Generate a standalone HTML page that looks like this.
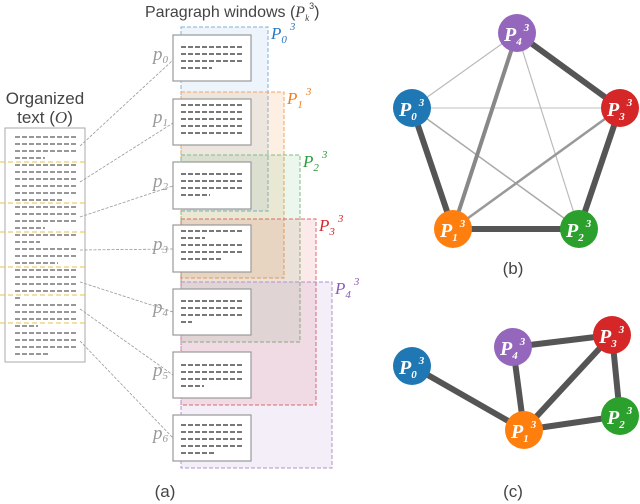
<!DOCTYPE html>
<html><head><meta charset="utf-8"><style>
html,body{margin:0;padding:0;background:#fff;}
svg{display:block;}
.sans{font-family:"Liberation Sans",sans-serif;}
.ser{font-family:"Liberation Serif",serif;font-style:italic;}
</style></head><body>
<svg width="640" height="504" viewBox="0 0 640 504" xmlns="http://www.w3.org/2000/svg">
<g stroke-dasharray="4,2" stroke-width="1">
<rect x="181" y="27" width="87" height="184" fill="#4a8fd6" fill-opacity="0.1" stroke="#7fb0dd"/>
<rect x="181" y="92" width="103" height="186" fill="#f08a2a" fill-opacity="0.13" stroke="#f4a460"/>
<rect x="181" y="155" width="119" height="187" fill="#3aa845" fill-opacity="0.1" stroke="#7cbf7f"/>
<rect x="181" y="219" width="135" height="186" fill="#e03030" fill-opacity="0.1" stroke="#e06868"/>
<rect x="181" y="282" width="151" height="186" fill="#9a70c0" fill-opacity="0.12" stroke="#b38fd0"/>
</g>
<g class="ser" font-size="17">
<text x="271" y="39" fill="#2a78c0">P<tspan font-size="11" dy="4">0</tspan><tspan font-size="11" dy="-13" dx="3">3</tspan></text>
<text x="287" y="104" fill="#f07f20">P<tspan font-size="11" dy="4">1</tspan><tspan font-size="11" dy="-13" dx="3">3</tspan></text>
<text x="303" y="167" fill="#2e9a3a">P<tspan font-size="11" dy="4">2</tspan><tspan font-size="11" dy="-13" dx="3">3</tspan></text>
<text x="319" y="231" fill="#d62828">P<tspan font-size="11" dy="4">3</tspan><tspan font-size="11" dy="-13" dx="3">3</tspan></text>
<text x="335" y="294" fill="#8a5cb8">P<tspan font-size="11" dy="4">4</tspan><tspan font-size="11" dy="-13" dx="3">3</tspan></text>
</g>
<text x="145" y="17" class="sans" font-size="16" fill="#444">Paragraph windows (<tspan class="ser">P</tspan><tspan class="ser" font-size="9" dy="4">k</tspan><tspan font-size="9" dy="-12">3</tspan><tspan dy="8">)</tspan></text>
<text x="45" y="104" class="sans" font-size="17" fill="#444" text-anchor="middle">Organized</text>
<text x="45" y="123" class="sans" font-size="17" fill="#444" text-anchor="middle">text (<tspan class="ser">O</tspan>)</text>
<rect x="5" y="128" width="80" height="234" fill="#fff" stroke="#aaa" stroke-width="1"/>
<g stroke="#777" stroke-width="1.6" stroke-dasharray="5,2">
<path d="M15 137H78M15 144H78M15 151H78M15 158H45M15 165H78M15 172H78M15 179H78M15 186H78M15 193H78M15 200H64M15 207H78M15 214H78M15 221H78M15 228H45M15 235H78M15 242H40M15 249H78M15 256H78M15 263H58M15 270H78M15 277H78M15 284H78M15 291H78M15 298H22M15 305H78M15 312H78M15 319H78M15 326H38M15 333H78M15 340H78M15 347H78M15 354H50"/>
</g>
<g stroke="#e6c04a" stroke-width="1" stroke-dasharray="5,3">
<path d="M0 162H88M0 203H88M0 232H88M0 267H88M0 295H88M0 323H88"/>
</g>
<g stroke="#999" stroke-width="0.8" stroke-dasharray="3,1.5" fill="none">
<path d="M80 146L173 60M80 182L173 123M80 217L173 186M80 250L173 249M80 282L173 312M80 309L173 375M80 341L173 438"/>
</g>
<g fill="#fff" stroke="#999" stroke-width="1.2">
<rect x="173" y="35" width="78" height="46"/>
<rect x="173" y="99" width="78" height="46"/>
<rect x="173" y="162" width="78" height="47"/>
<rect x="173" y="225" width="78" height="47"/>
<rect x="173" y="289" width="78" height="46"/>
<rect x="173" y="352" width="78" height="46"/>
<rect x="173" y="415" width="78" height="46"/>
</g>
<g stroke="#666" stroke-width="1.7" stroke-dasharray="5,2">
<path d="M181 47H244M181 54H244M181 61H244M181 68H212"/>
<path d="M181 105H244M181 112H244M181 119H244M181 126H244M181 133H244"/>
<path d="M181 174H244M181 181H244M181 188H244M181 195H210"/>
<path d="M181 231H244M181 238H205M181 245H244M181 252H244M181 259H222"/>
<path d="M181 301H244M181 308H244M181 315H244M181 322H192"/>
<path d="M181 365H244M181 372H244M181 379H244M181 386H204"/>
<path d="M181 425H244M181 432H244M181 439H244M181 446H244M181 453H215"/>
</g>
<g class="ser" font-size="19" fill="#999">
<text x="153" y="60">p<tspan font-size="11" dy="3">0</tspan></text>
<text x="153" y="123">p<tspan font-size="11" dy="3">1</tspan></text>
<text x="153" y="187">p<tspan font-size="11" dy="3">2</tspan></text>
<text x="153" y="250">p<tspan font-size="11" dy="3">3</tspan></text>
<text x="153" y="313">p<tspan font-size="11" dy="3">4</tspan></text>
<text x="153" y="376">p<tspan font-size="11" dy="3">5</tspan></text>
<text x="153" y="439">p<tspan font-size="11" dy="3">6</tspan></text>
</g>
<text x="165" y="497" class="sans" font-size="17" fill="#444" text-anchor="middle">(a)</text>
<g stroke-linecap="butt">
<line x1="412" y1="108" x2="517" y2="33" stroke="#bbb" stroke-width="1.2"/>
<line x1="412" y1="108" x2="620" y2="108" stroke="#ccc" stroke-width="1.2"/>
<line x1="412" y1="108" x2="579" y2="229" stroke="#aaa" stroke-width="1.5"/>
<line x1="517" y1="33" x2="579" y2="229" stroke="#bbb" stroke-width="1.2"/>
<line x1="453" y1="229" x2="620" y2="108" stroke="#999" stroke-width="2.5"/>
<line x1="517" y1="33" x2="453" y2="229" stroke="#888" stroke-width="4"/>
<line x1="412" y1="108" x2="453" y2="229" stroke="#555" stroke-width="6"/>
<line x1="453" y1="229" x2="579" y2="229" stroke="#555" stroke-width="6"/>
<line x1="579" y1="229" x2="620" y2="108" stroke="#555" stroke-width="6"/>
<line x1="620" y1="108" x2="517" y2="33" stroke="#555" stroke-width="6"/>
</g>
<g stroke="#555" stroke-width="6">
<line x1="412" y1="366" x2="524" y2="430"/>
<line x1="513" y1="347" x2="524" y2="430"/>
<line x1="513" y1="347" x2="612" y2="335"/>
<line x1="612" y1="335" x2="524" y2="430"/>
<line x1="612" y1="335" x2="620" y2="416"/>
<line x1="524" y1="430" x2="620" y2="416"/>
</g>
<g class="ser" font-weight="bold" font-size="20" fill="#fff">
<circle cx="517" cy="33" r="19" fill="#9467bd"/><text x="504" y="41">P<tspan font-size="11" dy="4">4</tspan><tspan font-size="11" dy="-14" dx="2">3</tspan></text>
<circle cx="412" cy="108" r="19" fill="#1f77b4"/><text x="399" y="116">P<tspan font-size="11" dy="4">0</tspan><tspan font-size="11" dy="-14" dx="2">3</tspan></text>
<circle cx="620" cy="108" r="19" fill="#d62728"/><text x="607" y="116">P<tspan font-size="11" dy="4">3</tspan><tspan font-size="11" dy="-14" dx="2">3</tspan></text>
<circle cx="453" cy="229" r="19" fill="#ff7f0e"/><text x="440" y="237">P<tspan font-size="11" dy="4">1</tspan><tspan font-size="11" dy="-14" dx="2">3</tspan></text>
<circle cx="579" cy="229" r="19" fill="#2ca02c"/><text x="566" y="237">P<tspan font-size="11" dy="4">2</tspan><tspan font-size="11" dy="-14" dx="2">3</tspan></text>
<circle cx="412" cy="366" r="19" fill="#1f77b4"/><text x="399" y="374">P<tspan font-size="11" dy="4">0</tspan><tspan font-size="11" dy="-14" dx="2">3</tspan></text>
<circle cx="513" cy="347" r="19" fill="#9467bd"/><text x="500" y="355">P<tspan font-size="11" dy="4">4</tspan><tspan font-size="11" dy="-14" dx="2">3</tspan></text>
<circle cx="612" cy="335" r="19" fill="#d62728"/><text x="599" y="343">P<tspan font-size="11" dy="4">3</tspan><tspan font-size="11" dy="-14" dx="2">3</tspan></text>
<circle cx="524" cy="430" r="19" fill="#ff7f0e"/><text x="511" y="438">P<tspan font-size="11" dy="4">1</tspan><tspan font-size="11" dy="-14" dx="2">3</tspan></text>
<circle cx="620" cy="416" r="19" fill="#2ca02c"/><text x="607" y="424">P<tspan font-size="11" dy="4">2</tspan><tspan font-size="11" dy="-14" dx="2">3</tspan></text>
</g>
<text x="513" y="274" class="sans" font-size="17" fill="#444" text-anchor="middle">(b)</text>
<text x="513" y="497" class="sans" font-size="17" fill="#444" text-anchor="middle">(c)</text>
</svg>
</body></html>
